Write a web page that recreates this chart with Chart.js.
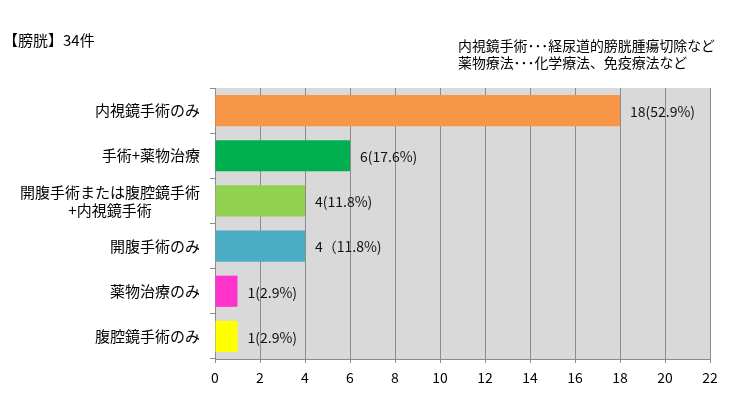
<!DOCTYPE html>
<html>
<head>
<meta charset="utf-8">
<script src="https://cdn.jsdelivr.net/npm/chart.js@4"></script>
<style>
  html, body { margin: 0; padding: 0; background: #fff; }
  #wrap { position: relative; width: 745px; height: 398px; overflow: hidden; }
  canvas { position: absolute; left: 0; top: 0; }
  .txt { position: absolute; font-family: 'Noto Sans CJK JP', sans-serif; color: #000; white-space: nowrap; line-height: 1; }
  #title { left: 3px; top: 32px; font-size: 15px; }
  #note1 { left: 458px; top: 39px; font-size: 13.9px; }
  #note2 { left: 458px; top: 56px; font-size: 13.9px; }
</style>
</head>
<body>
<div id="wrap">
  <canvas id="c" width="745" height="398"></canvas>
  <div class="txt" id="title">【膀胱】34件</div>
  <div class="txt" id="note1">内視鏡手術･･･経尿道的膀胱腫瘍切除など</div>
  <div class="txt" id="note2">薬物療法･･･化学療法、免疫療法など</div>
</div>
<script>
const categories = [
  "内視鏡手術のみ",
  "手術+薬物治療",
  ["開腹手術または腹腔鏡手術", "+内視鏡手術\u3000\u3000\u3000 "],
  "開腹手術のみ",
  "薬物治療のみ",
  "腹腔鏡手術のみ"
];
const counts = [18, 6, 4, 4, 1, 1];
const valueLabels = ["18(52.9%)", "6(17.6%)", "4(11.8%)", "4（11.8%)", "1(2.9%)", "1(2.9%)"];
const xMin = 0, xMax = 22, xStep = 2;

const barColors = ["#F79646", "#00B050", "#92D050", "#4BACC6", "#FF33CC", "#FFFF00"];
const FONT = "'Noto Sans CJK JP', sans-serif";

const bgPlugin = {
  id: 'plotBg',
  beforeDraw(chart) {
    const a = chart.chartArea, ctx = chart.ctx;
    ctx.save();
    ctx.fillStyle = '#D9D9D9';
    ctx.fillRect(a.left, a.top, a.right - a.left, a.bottom - a.top);
    ctx.restore();
  }
};
const labelPlugin = {
  id: 'valLabels',
  afterDatasetsDraw(chart) {
    const ctx = chart.ctx;
    const meta = chart.getDatasetMeta(0);
    ctx.save();
    ctx.font = "14px " + FONT;
    ctx.fillStyle = '#111';
    ctx.textAlign = 'left';
    ctx.textBaseline = 'middle';
    meta.data.forEach((bar, i) => {
      ctx.fillText(valueLabels[i], bar.x + 10, bar.y + 1);
    });
    ctx.restore();
  }
};

new Chart(document.getElementById('c'), {
  type: 'bar',
  data: {
    labels: categories,
    datasets: [{
      data: counts,
      backgroundColor: barColors,
      borderWidth: 0,
      categoryPercentage: 1,
      barPercentage: 0.69
    }]
  },
  options: {
    indexAxis: 'y',
    responsive: false,
    animation: false,
    layout: { padding: { top: 88, right: 35, left: 0, bottom: 0 } },
    plugins: { legend: { display: false }, tooltip: { enabled: false } },
    scales: {
      x: {
        min: xMin, max: xMax,
        ticks: { stepSize: xStep, color: '#000', font: { family: FONT, size: 14 }, padding: 6 },
        grid: { color: '#8C8C8C', lineWidth: 1, tickLength: 4, drawOnChartArea: true },
        border: { color: '#8C8C8C', width: 1 },
        afterFit(s) { s.height = 39; }
      },
      y: {
        ticks: { color: '#000', font: { family: FONT, size: 15 }, padding: 10 },
        grid: { drawOnChartArea: false, color: '#8C8C8C', tickLength: 5, offset: true },
        border: { color: '#8C8C8C', width: 1 },
        afterFit(s) { s.width = 215; }
      }
    }
  },
  plugins: [bgPlugin, labelPlugin]
});
</script>
</body>
</html>
